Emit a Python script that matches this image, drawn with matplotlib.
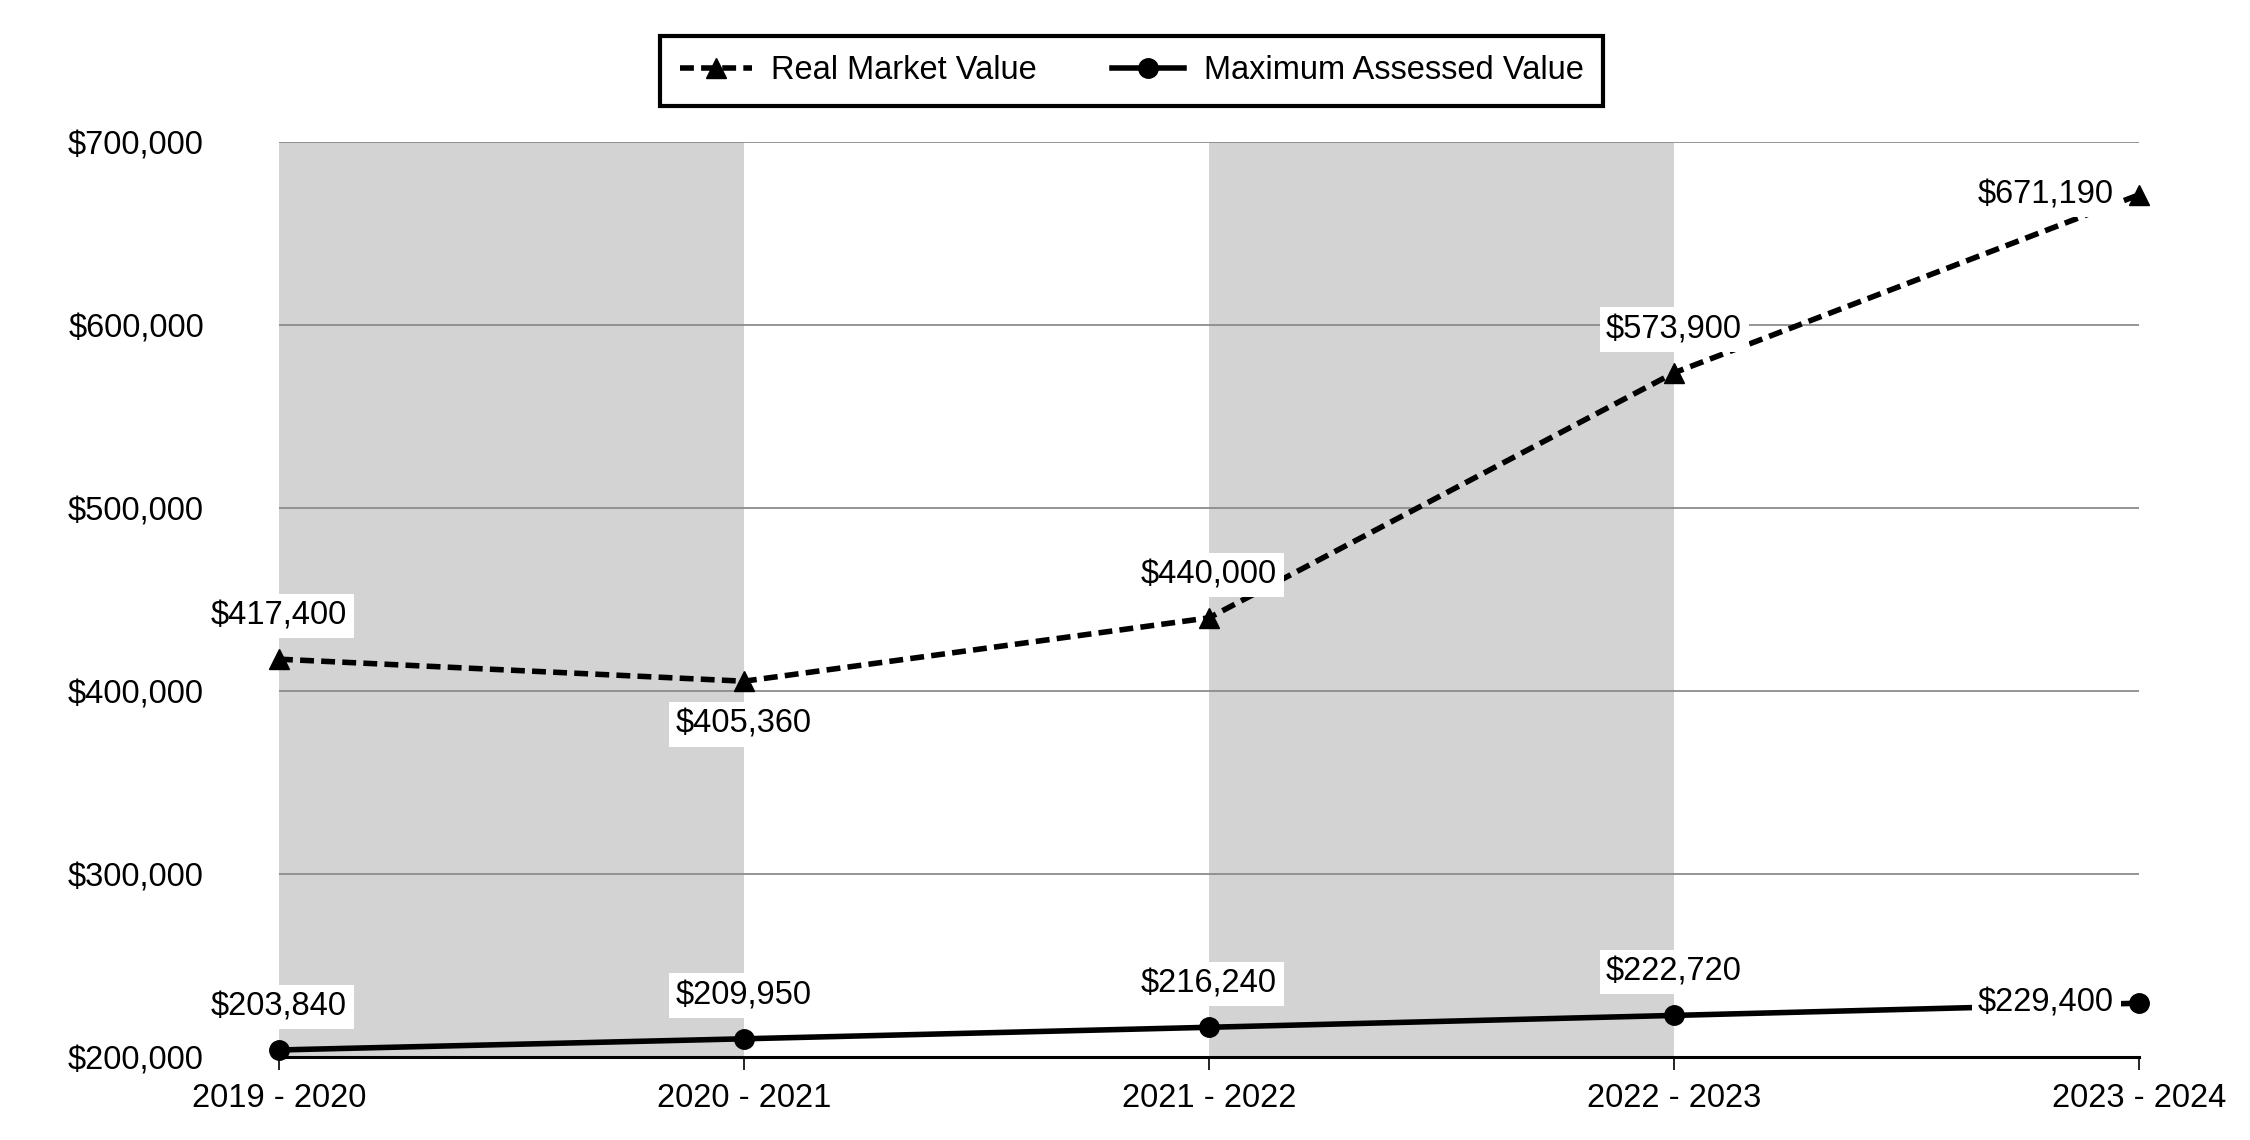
import matplotlib.pyplot as plt
from matplotlib.ticker import FuncFormatter

plt.rcParams["font.family"] = ["Liberation Sans", "DejaVu Sans"]

# --- dados ---
anos = ["2019 - 2020", "2020 - 2021", "2021 - 2022", "2022 - 2023", "2023 - 2024"]
real_market = [417400, 405360, 440000, 573900, 671190]
max_assessed = [203840, 209950, 216240, 222720, 229400]
y_ticks = [200000, 300000, 400000, 500000, 600000, 700000]

# posicao dos rotulos: "above", "below", "left"
pos_real = ["above", "below", "above", "above", "left"]
pos_max = ["above", "above", "above", "above", "left"]

FS = 23.5

fig = plt.figure(figsize=(22.5, 11.4), dpi=100)
ax = fig.add_axes([0.124, 0.0728, 0.8267, 0.8026])

x = list(range(len(anos)))

# faixas cinzas
for i in [0, 2]:
    ax.axvspan(x[i], x[i + 1], color="#d3d3d3", zorder=0, lw=0)

ax.set_xlim(x[0], x[-1])
ax.set_ylim(y_ticks[0], y_ticks[-1])
ax.set_yticks(y_ticks)
ax.yaxis.set_major_formatter(FuncFormatter(lambda v, p: f"${v:,.0f}"))
ax.set_xticks(x)
ax.set_xticklabels(anos)

ax.grid(axis="y", color="#8c8c8c", lw=1.3, zorder=1)
ax.set_axisbelow(True)
for s in ["left", "right", "top"]:
    ax.spines[s].set_visible(False)
ax.spines["bottom"].set_linewidth(2.2)
ax.spines["bottom"].set_zorder(2)

ax.tick_params(axis="y", length=0, pad=54, labelsize=FS)
ax.tick_params(axis="x", length=9, width=1.2, pad=10, labelsize=FS)

l1, = ax.plot(x, real_market, color="black", lw=4, marker="^", ms=15,
              label="Real Market Value", zorder=4, clip_on=False)
l1.set_dashes((2.5, 1.3))
l2, = ax.plot(x, max_assessed, color="black", lw=4, marker="o", ms=14,
              label="Maximum Assessed Value", zorder=4, clip_on=False)

box = dict(boxstyle="square,pad=0.2", fc="white", ec="none")


def rotular(valores, posicoes):
    for xi, v, p in zip(x, valores, posicoes):
        txt = f"${v:,.0f}"
        if p == "above":
            ax.annotate(txt, (xi, v), xytext=(0, 20), textcoords="offset points",
                        ha="center", va="bottom", fontsize=FS, bbox=box, zorder=5)
        elif p == "below":
            ax.annotate(txt, (xi, v), xytext=(0, -20), textcoords="offset points",
                        ha="center", va="top", fontsize=FS, bbox=box, zorder=5)
        else:
            ax.annotate(txt, (xi, v), xytext=(-18, 0), textcoords="offset points",
                        ha="right", va="center", fontsize=FS, bbox=box, zorder=5)


rotular(real_market, pos_real)
rotular(max_assessed, pos_max)

leg = fig.legend(handles=[l1, l2], loc="center", bbox_to_anchor=(0.503, 0.938),
                 ncol=2, fontsize=FS, frameon=True, fancybox=False,
                 edgecolor="black", handlelength=2.2, columnspacing=2.3,
                 borderpad=0.6, handletextpad=0.6, borderaxespad=0)
leg.get_frame().set_linewidth(3)
leg.get_frame().set_alpha(1)

fig.savefig("out.png", dpi=100)
